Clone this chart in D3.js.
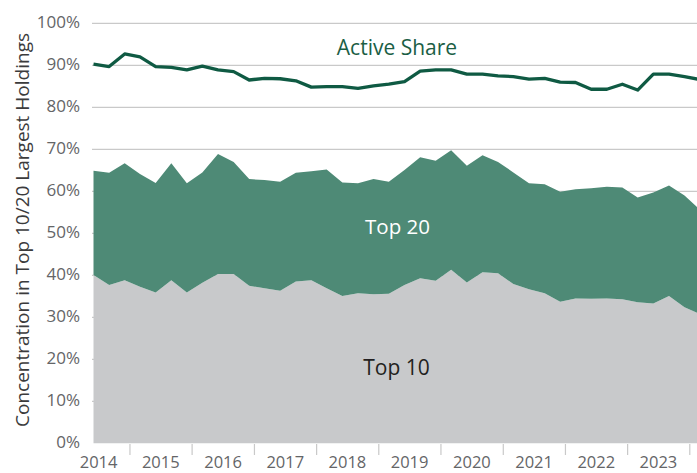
<!DOCTYPE html>
<html>
<head>
<meta charset="utf-8">
<script src="https://cdn.jsdelivr.net/npm/d3@7"></script>
<style>
  body { margin: 0; background: #fff; }
  svg { display: block; font-family: 'Open Sans', sans-serif; }
  .tickText { font-size: 17px; fill: #646567; }
</style>
</head>
<body>
<svg id="chart" width="697" height="473"></svg>
<script>
// quarterly observations
const quarters = [
  '2014-06', '2014-09', '2014-12', '2015-03', '2015-06', '2015-09', '2015-12', '2016-03',
  '2016-06', '2016-09', '2016-12', '2017-03', '2017-06', '2017-09', '2017-12', '2018-03',
  '2018-06', '2018-09', '2018-12', '2019-03', '2019-06', '2019-09', '2019-12', '2020-03',
  '2020-06', '2020-09', '2020-12', '2021-03', '2021-06', '2021-09', '2021-12', '2022-03',
  '2022-06', '2022-09', '2022-12', '2023-03', '2023-06', '2023-09', '2023-12', '2024-03'
];
const activeShare = [
  90.3, 89.7, 92.7, 92.0, 89.7, 89.5, 88.9, 89.8, 88.9, 88.5,
  86.5, 86.9, 86.8, 86.3, 84.8, 84.9, 84.9, 84.5, 85.1, 85.5,
  86.1, 88.6, 88.9, 88.9, 87.9, 87.9, 87.5, 87.3, 86.7, 86.9,
  86.0, 85.9, 84.3, 84.3, 85.5, 84.1, 87.9, 87.9, 87.3, 86.6
];
const top20 = [
  64.9, 64.4, 66.7, 64.1, 62.0, 66.7, 61.9, 64.5, 68.9, 67.0,
  62.9, 62.7, 62.3, 64.4, 64.8, 65.2, 62.1, 61.9, 62.9, 62.3,
  65.1, 68.1, 67.3, 69.8, 66.1, 68.6, 67.0, 64.5, 61.9, 61.7,
  59.9, 60.5, 60.7, 61.1, 60.9, 58.5, 59.7, 61.4, 59.0, 55.6
];
const top10 = [
  40.1, 37.7, 38.8, 37.3, 35.9, 38.8, 35.9, 38.2, 40.3, 40.3,
  37.5, 36.9, 36.3, 38.5, 38.8, 36.9, 35.1, 35.7, 35.5, 35.6,
  37.7, 39.3, 38.7, 41.3, 38.3, 40.7, 40.5, 37.9, 36.7, 35.7,
  33.7, 34.5, 34.4, 34.5, 34.3, 33.6, 33.3, 35.1, 32.4, 30.8
];
const yearLabels = ['2014', '2015', '2016', '2017', '2018', '2019', '2020', '2021', '2022', '2023'];
const yTicks = [0, 10, 20, 30, 40, 50, 60, 70, 80, 90, 100];

const width = 697;
const parse = d3.timeParse('%Y-%m');
const data = quarters.map((q, i) => ({
  date: parse(q), active: activeShare[i], t20: top20[i], t10: top10[i]
}));

const xscale = d3.scaleTime()
  .domain([parse('2014-06'), parse('2024-03')])
  .range([93.5, 700]);

const yscale = d3.scaleLinear()
  .domain([0, 100])
  .range([443.3, 23.3]);

const svg = d3.select('#chart');

// gridlines
svg.append('g')
  .selectAll('line')
  .data(yTicks.filter((d) => d > 0))
  .enter()
  .append('line')
  .attr('x1', 92)
  .attr('x2', width)
  .attr('y1', (d) => yscale(d))
  .attr('y2', (d) => yscale(d))
  .attr('stroke', '#c9c9c9')
  .attr('stroke-width', 1.2);

// gray area (top 10)
svg.append('path')
  .datum(data)
  .attr('fill', '#c8c9cb')
  .attr('d', d3.area()
    .x((d) => xscale(d.date))
    .y0(yscale(0))
    .y1((d) => yscale(d.t10)));

// green band (top 20)
svg.append('path')
  .datum(data)
  .attr('fill', '#4e8a76')
  .attr('d', d3.area()
    .x((d) => xscale(d.date))
    .y0((d) => yscale(d.t10))
    .y1((d) => yscale(d.t20)));

// active share line
svg.append('path')
  .datum(data)
  .attr('fill', 'none')
  .attr('stroke', '#0f5a43')
  .attr('stroke-width', 3.3)
  .attr('stroke-linejoin', 'round')
  .attr('d', d3.line()
    .x((d) => xscale(d.date))
    .y((d) => yscale(d.active)));

// y labels
svg.append('g')
  .selectAll('text')
  .data(yTicks)
  .enter()
  .append('text')
  .attr('class', 'tickText')
  .attr('x', 80)
  .attr('y', (d) => yscale(d) - 1.5)
  .attr('dy', '0.35em')
  .attr('text-anchor', 'end')
  .text((d) => `${d}%`);

// x ticks at year starts, labels mid-year
const yearStarts = yearLabels.slice(1).concat(['2024']).map((y) => new Date(+y, 0, 1));
svg.append('g')
  .selectAll('line')
  .data(yearStarts)
  .enter()
  .append('line')
  .attr('x1', (d) => xscale(d))
  .attr('x2', (d) => xscale(d))
  .attr('y1', 444)
  .attr('y2', 455)
  .attr('stroke', '#c9c9c9')
  .attr('stroke-width', 1.2);

svg.append('g')
  .selectAll('text')
  .data(yearLabels)
  .enter()
  .append('text')
  .attr('class', 'tickText')
  .style('font-size', '16.5px')
  .attr('x', (d) => xscale(new Date(+d, 6, 1)))
  .attr('y', 468)
  .attr('text-anchor', 'middle')
  .text((d) => d);

// axis title
svg.append('text')
  .text('Concentration in Top 10/20 Largest Holdings')
  .attr('transform', 'translate(29, 230) rotate(-90)')
  .attr('text-anchor', 'middle')
  .style('font-size', '19px')
  .attr('fill', '#3b3b3c');

// series labels
svg.append('text')
  .text('Active Share')
  .attr('x', 397)
  .attr('y', 55)
  .attr('text-anchor', 'middle')
  .style('font-size', '21px')
  .attr('fill', '#1b5e45');

svg.append('text')
  .text('Top 20')
  .attr('x', 397.5)
  .attr('y', 233.5)
  .attr('text-anchor', 'middle')
  .style('font-size', '20.5px')
  .attr('fill', '#ffffff');

svg.append('text')
  .text('Top 10')
  .attr('x', 396.5)
  .attr('y', 375)
  .attr('text-anchor', 'middle')
  .style('font-size', '21px')
  .attr('fill', '#231f20');
</script>
</body>
</html>
